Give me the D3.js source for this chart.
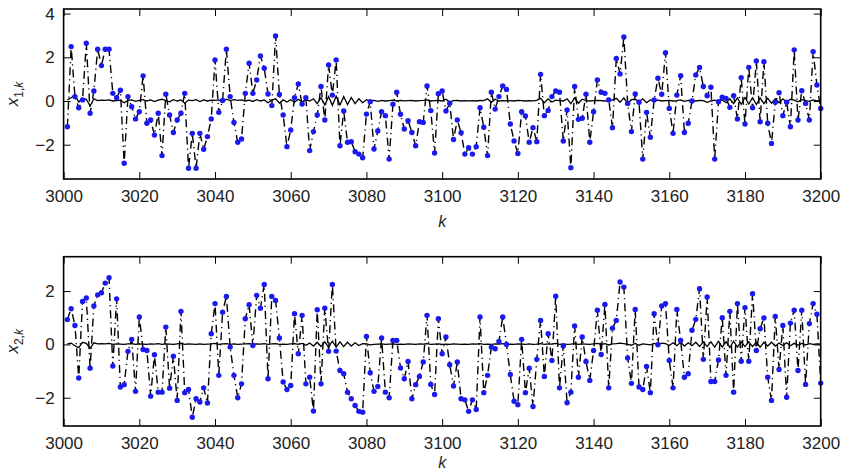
<!DOCTYPE html>
<html>
<head>
<meta charset="utf-8">
<script src="https://cdn.jsdelivr.net/npm/d3@7"></script>
<style>
  body { margin: 0; background: #fff; }
  svg { display: block; }
  text { font-family: "Liberation Sans", Arial, Helvetica, sans-serif; }
</style>
</head>
<body>
<div id="chart"></div>
<script>
// time index k (3001 .. 3200)
const kValues = d3.range(3001, 3201);
const xTicks = [3000, 3020, 3040, 3060, 3080, 3100, 3120, 3140, 3160, 3180, 3200];
const y1Ticks = [-2, 0, 2, 4];
const y2Ticks = [-2, 0, 2];

// measured state x_{1,k} (blue dots, dash-dot line)
const x1Meas = [
  -1.18, 2.49, 0.20, -0.31, 0.05, 2.64, -0.56, 0.46, 2.37, 1.62,
  2.37, 2.37, 0.35, 0.15, 0.49, -2.85, 0.20, -0.26, -0.82, -0.49,
  1.15, -1.02, -0.87, -1.56, -0.56, -2.50, 0.31, -0.64, -1.44, -0.87,
  -0.56, 0.35, -3.08, -1.48, -3.08, -1.48, -2.21, -1.63, -0.82, 1.88,
  -0.52, 0.02, 2.37, 0.20, -0.98, -1.89, -1.74, 0.35, 1.73, 0.35,
  0.96, 2.06, 1.50, 0.32, -0.21, 2.98, 0.30, -0.64, -2.09, -1.33,
  0.15, 0.78, -0.14, 0.15, -2.27, -1.40, -0.64, 0.66, -0.87, 1.65,
  0.27, 1.88, -2.05, -0.46, -1.89, -1.86, -2.32, -2.43, -2.60, -0.60,
  -0.03, -2.20, -1.37, -0.49, -0.67, -2.66, -0.15, 0.40, -0.61, -1.28,
  -0.90, -1.44, -2.05, -0.95, -0.98, 0.69, -0.44, -2.38, 0.33, 0.46,
  -0.46, -0.10, -1.76, -0.87, -1.45, -2.43, -2.14, -2.43, -2.09, -0.31,
  -1.20, -2.50, 0.40, -0.37, 0.20, 0.69, 0.53, -1.05, -1.83, -2.40,
  -0.49, -0.69, -1.89, -1.22, -1.86, 1.22, -0.67, -0.43, 0.20, 0.46,
  0.40, -1.83, -0.41, -3.05, 0.66, -0.84, -0.79, 0.31, -1.89, -0.49,
  0.96, 0.40, 0.35, 0.05, -1.22, 1.95, 1.24, 2.93, -0.11, -1.40,
  0.32, -0.06, -2.66, -0.52, -1.66, 0.05, 1.04, 0.31, 2.21, -0.34,
  -1.48, 0.27, 1.16, -1.44, -1.02, 0.00, 1.19, 1.53, 0.66, 0.24,
  0.63, -2.66, -0.03, 0.17, 0.12, -0.29, 0.24, -0.82, 1.07, -1.05,
  1.54, -0.31, 1.83, -0.95, 1.80, -1.02, -1.94, -0.06, 0.38, -0.67,
  -0.06, -1.18, 2.34, -0.87, 0.47, -0.11, -0.87, 2.26, 0.73, -0.34
];

// estimate of x_{1,k} (solid line)
const x1Est = [
  0.05, 0.15, 0.28, -0.05, 0.12, 0.08, -0.22, 0.10, 0.02, 0.04,
  0.03, 0.05, 0.00, 0.02, 0.04, -0.08, 0.03, 0.05, -0.02, 0.03,
  0.06, 0.00, 0.05, -0.03, 0.04, 0.08, 0.02, -0.04, 0.06, 0.00,
  0.05, -0.10, 0.04, 0.02, 0.06, -0.03, 0.05, 0.00, 0.04, 0.03,
  0.05, -0.05, 0.08, 0.02, 0.06, 0.03, 0.05, 0.00, 0.04, -0.02,
  0.06, 0.00, 0.05, -0.08, 0.04, 0.10, -0.10, 0.05, -0.05, 0.06,
  -0.06, 0.08, -0.04, 0.06, 0.00, 0.10, -0.12, 0.15, -0.18, 0.20,
  -0.20, 0.22, -0.18, 0.20, -0.16, 0.16, -0.12, 0.10, -0.08, 0.06,
  0.00, 0.03, -0.02, 0.03, 0.00, 0.02, 0.04, 0.00, 0.03, 0.01,
  0.02, 0.03, 0.00, 0.02, 0.03, 0.05, 0.00, 0.02, 0.03, 0.00,
  0.08, -0.05, 0.02, 0.03, 0.00, 0.02, 0.01, 0.02, 0.00, 0.03,
  0.02, 0.10, -0.06, 0.08, 0.00, 0.02, 0.01, 0.02, 0.00, 0.03,
  0.02, 0.00, 0.02, 0.01, 0.03, 0.12, -0.08, 0.10, -0.05, 0.04,
  0.02, 0.00, 0.10, -0.12, 0.14, -0.10, 0.08, 0.02, 0.00, 0.02,
  0.03, 0.02, 0.00, 0.02, 0.05, 0.12, -0.06, 0.14, -0.12, 0.06,
  0.08, -0.04, 0.10, -0.08, 0.05, 0.02, 0.04, 0.00, 0.02, 0.03,
  0.00, 0.02, 0.05, -0.02, 0.03, 0.02, 0.00, 0.03, 0.02, -0.06,
  0.00, 0.04, -0.02, 0.05, -0.08, 0.10, -0.12, 0.14, -0.15, 0.16,
  -0.14, 0.15, -0.16, 0.14, -0.12, 0.12, -0.10, 0.10, -0.08, 0.10,
  -0.06, 0.08, 0.04, -0.04, 0.06, 0.02, -0.02, 0.05, 0.00, 0.02
];

// measured state x_{2,k}
const x2Meas = [
  0.93, 1.34, 0.71, -1.26, 1.61, 1.74, -0.89, 1.44, 1.86, 1.94,
  2.30, 2.50, -0.81, 1.71, -1.60, -1.51, -0.26, 0.19, -1.76, 1.03,
  -0.19, -0.23, -1.94, -0.39, -1.79, -1.79, 0.65, -1.64, -0.44, -2.10,
  1.24, -1.81, -1.69, -2.73, -2.04, -2.16, -1.63, -2.20, 0.40, 1.53,
  -1.16, 1.21, 1.80, -0.10, -1.16, -2.00, -1.48, 0.96, 1.49, -0.04,
  1.84, 1.36, 2.25, -1.29, 1.80, 1.65, 0.24, -1.41, -1.69, -1.54,
  1.15, -0.35, 1.09, -1.48, -1.23, -2.50, 1.30, -1.48, 1.36, -0.26,
  2.25, -0.25, -0.98, -1.10, -1.79, -2.04, -2.29, -2.51, -2.54, 0.30,
  -1.06, -1.76, -1.58, 0.24, -1.79, -2.00, 0.15, 0.15, -0.88, -1.29,
  -0.64, -2.04, -1.51, -1.20, -0.66, 1.09, -1.50, -1.88, 0.96, -0.35,
  0.28, -0.76, -1.56, -0.66, -2.04, -2.08, -2.51, -2.08, -2.44, 1.03,
  -1.81, -1.16, -0.10, -0.16, 0.11, 1.03, 0.00, -1.13, -2.13, -2.26,
  0.19, -1.81, -0.89, -2.33, -0.56, 0.90, -1.20, 0.40, -0.60, 1.81,
  -1.63, -0.06, -2.19, -1.79, 0.69, -1.23, 0.28, -0.64, -1.35, -0.23,
  1.28, -0.38, 1.50, -1.63, 0.61, 0.90, 2.34, 2.15, -0.51, -1.46,
  1.31, -1.60, -1.69, -0.83, -1.81, 1.15, -0.01, 1.44, 1.53, -0.60,
  -1.63, 1.31, 0.15, -1.23, -1.10, 0.53, 0.94, 2.09, -0.56, 1.78,
  -1.39, -1.39, -0.58, 1.00, -1.16, 1.24, -1.79, 1.53, -0.63, 1.38,
  -0.63, 1.90, -0.23, 0.59, 0.99, -1.23, -2.10, 1.05, -0.94, 0.71,
  -1.98, 0.80, 1.28, -0.98, 1.28, -1.50, 0.78, 1.53, 1.13, -1.45
];

// estimate of x_{2,k}
const x2Est = [
  0.02, 0.05, -0.05, -0.12, 0.08, 0.04, -0.15, 0.06, 0.02, 0.03,
  0.02, 0.04, 0.00, 0.02, 0.01, 0.00, 0.02, 0.03, 0.00, 0.02,
  0.01, 0.00, 0.02, 0.01, 0.03, 0.00, 0.02, 0.01, 0.00, 0.02,
  0.04, 0.00, 0.02, 0.01, 0.00, 0.02, 0.00, 0.01, 0.02, 0.04,
  0.00, 0.02, 0.03, 0.00, 0.02, 0.00, 0.01, 0.02, 0.03, 0.00,
  0.02, 0.01, 0.03, 0.00, 0.02, 0.03, 0.00, 0.01, 0.00, 0.02,
  0.03, 0.00, 0.04, -0.03, 0.05, -0.06, 0.08, -0.08, 0.10, -0.10,
  0.12, -0.10, 0.10, -0.08, 0.08, -0.06, 0.06, -0.04, 0.03, 0.02,
  -0.02, 0.00, 0.01, 0.02, 0.00, 0.01, 0.02, 0.00, 0.01, 0.00,
  0.02, 0.01, 0.00, 0.02, 0.01, 0.03, 0.00, 0.01, 0.02, 0.00,
  0.01, 0.00, 0.02, 0.01, 0.00, 0.01, 0.00, 0.02, 0.01, 0.03,
  0.00, 0.01, 0.00, 0.02, 0.01, 0.03, 0.00, 0.01, 0.00, 0.02,
  0.01, 0.00, 0.02, 0.00, 0.01, 0.03, 0.00, 0.02, 0.01, 0.04,
  0.00, 0.02, 0.00, 0.01, 0.03, 0.00, 0.02, 0.01, 0.00, 0.02,
  0.04, 0.00, 0.03, -0.02, 0.02, 0.03, 0.05, 0.03, 0.00, -0.03,
  0.04, -0.03, 0.02, 0.00, -0.02, 0.04, 0.00, 0.05, 0.03, -0.04,
  0.06, -0.05, 0.08, -0.06, 0.06, -0.05, 0.08, -0.08, 0.10, -0.08,
  0.10, -0.10, 0.12, -0.10, 0.10, -0.12, 0.12, -0.10, 0.10, -0.08,
  0.10, -0.08, 0.08, -0.10, 0.08, -0.06, 0.08, -0.06, 0.05, -0.04,
  0.06, -0.05, 0.04, -0.03, 0.04, -0.02, 0.03, 0.00, 0.02, 0.01
];

const W = 845, H = 472;
const svg = d3.select("#chart").append("svg")
  .attr("width", W)
  .attr("height", H);

const left = 63.6, right = 820.7;
const fontSize = 17;

function drawPanel(cfg) {
  const x = d3.scaleLinear().domain([3000, 3200]).range([left, right]);
  const y = d3.scaleLinear().domain(cfg.yDomain).range([cfg.bottom, cfg.top]);
  const g = svg.append("g");

  const line = d3.line()
    .x((d, i) => x(kValues[i]))
    .y(d => y(d));

  // solid estimate line
  g.append("path")
    .attr("d", line(cfg.est))
    .attr("fill", "none")
    .attr("stroke", "#000")
    .attr("stroke-width", 1.3);

  // dash-dot measurement line
  g.append("path")
    .attr("d", line(cfg.meas))
    .attr("fill", "none")
    .attr("stroke", "#000")
    .attr("stroke-width", 1.4)
    .attr("stroke-dasharray", "8,4,1.2,4");

  // blue dots
  g.selectAll("circle.pt")
    .data(cfg.meas)
    .join("circle")
    .attr("class", "pt")
    .attr("cx", (d, i) => x(kValues[i]))
    .attr("cy", d => y(d))
    .attr("r", 2.7)
    .attr("fill", "#1a1aee");

  // axes with inward ticks
  const xb = g.append("g")
    .attr("transform", `translate(0,${cfg.bottom})`)
    .call(d3.axisBottom(x).tickValues(xTicks).tickFormat(d3.format("d"))
      .tickSizeInner(-7).tickSizeOuter(0).tickPadding(11));
  const xt = g.append("g")
    .attr("transform", `translate(0,${cfg.top})`)
    .call(d3.axisTop(x).tickValues(xTicks).tickFormat("")
      .tickSizeInner(-7).tickSizeOuter(0));
  const yl = g.append("g")
    .attr("transform", `translate(${left},0)`)
    .call(d3.axisLeft(y).tickValues(cfg.yTicks).tickFormat(d3.format("d"))
      .tickSizeInner(-7).tickSizeOuter(0).tickPadding(9));
  const yr = g.append("g")
    .attr("transform", `translate(${right},0)`)
    .call(d3.axisRight(y).tickValues(cfg.yTicks).tickFormat("")
      .tickSizeInner(-7).tickSizeOuter(0));

  [xb, xt, yl, yr].forEach(a => {
    a.select(".domain").remove();
    a.selectAll(".tick line").attr("stroke", "#000").attr("stroke-width", 1);
    a.selectAll("text")
      .attr("font-size", fontSize)
      .attr("font-family", "'Liberation Sans', Arial, sans-serif")
      .attr("fill", "#222");
  });

  // frame
  g.append("rect")
    .attr("x", left)
    .attr("y", cfg.top)
    .attr("width", right - left)
    .attr("height", cfg.bottom - cfg.top)
    .attr("fill", "none")
    .attr("stroke", "#000")
    .attr("stroke-width", 1.6);

  // x label (kept inside the window for the lower panel)
  g.append("text")
    .attr("x", (left + right) / 2)
    .attr("y", Math.min(cfg.bottom + 48, H - 4))
    .attr("text-anchor", "middle")
    .attr("font-size", 16)
    .attr("font-style", "italic")
    .attr("fill", "#222")
    .text("k");

  // y label x_{i,k}
  const ylab = g.append("text")
    .attr("transform", `translate(18,${(cfg.top + cfg.bottom) / 2}) rotate(-90)`)
    .attr("text-anchor", "middle")
    .attr("font-size", fontSize)
    .attr("fill", "#222");
  ylab.append("tspan").attr("font-style", "italic").text("x");
  ylab.append("tspan")
    .attr("font-size", 12)
    .attr("dy", 5)
    .text(cfg.sub + ",");
  ylab.append("tspan")
    .attr("font-size", 12)
    .attr("font-style", "italic")
    .text("k");
}

drawPanel({ top: 9, bottom: 179, yDomain: [-3.57, 4.21], yTicks: y1Ticks,
  meas: x1Meas, est: x1Est, sub: "1" });
drawPanel({ top: 256.7, bottom: 426, yDomain: [-3.06, 3.29], yTicks: y2Ticks,
  meas: x2Meas, est: x2Est, sub: "2" });
</script>
</body>
</html>
